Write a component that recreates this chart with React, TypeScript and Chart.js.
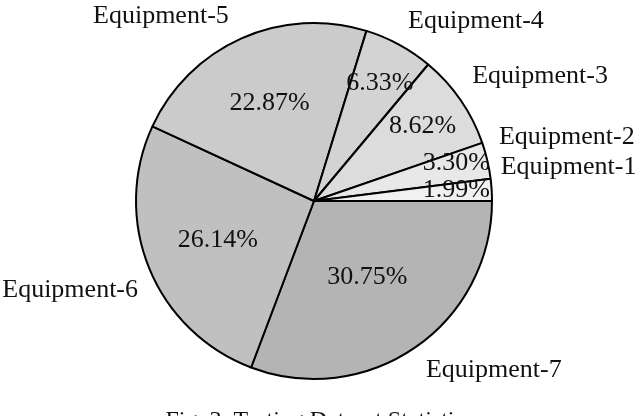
import React, { useEffect, useRef } from "react";
import { Chart, registerables } from "chart.js";

Chart.register(...registerables);

const labels = ["Equipment-7", "Equipment-6", "Equipment-5", "Equipment-4", "Equipment-3", "Equipment-2", "Equipment-1"];
const values = [30.75, 26.14, 22.87, 6.33, 8.62, 3.3, 1.99];
const sliceColors = ["#b4b4b4", "#c0c0c0", "#cbcbcb", "#d3d3d3", "#dcdcdc", "#e8e8e8", "#f1f1f1"];
const caption = "Fig. 3. Testing Dataset Statistics";

// label anchors in units of pie radius relative to pie centre
const pctOffsets = [[0.3, 0.43], [-0.54, 0.22], [-0.25, -0.55], [0.37, -0.66], [0.61, -0.42], [0.8, -0.21], [0.8, -0.06]];
const nameOffsets = [[1.01, 0.95], [-1.37, 0.5], [-0.86, -1.04], [0.91, -1.01], [1.27, -0.7], [1.42, -0.36], [1.43, -0.19]];

const FONT = '"Liberation Serif", "Times New Roman", serif';

const textPlugin = {
  id: "pieText",
  afterDatasetsDraw(chart: any) {
    const meta = chart.getDatasetMeta(0);
    const arc0 = meta.data[0];
    if (!arc0) return;
    const cx = arc0.x;
    const cy = arc0.y;
    const r = arc0.outerRadius;
    const ctx = chart.ctx;
    ctx.save();
    ctx.fillStyle = "#111";
    ctx.textAlign = "center";
    ctx.textBaseline = "middle";
    ctx.font = `26px ${FONT}`;
    values.forEach((v, i) => {
      const [px, py] = pctOffsets[i];
      ctx.fillText(v.toFixed(2) + "%", cx + px * r, cy + py * r);
      const [nx, ny] = nameOffsets[i];
      ctx.fillText(labels[i], cx + nx * r, cy + ny * r);
    });
    ctx.font = `24px ${FONT}`;
    ctx.textBaseline = "alphabetic";
    ctx.fillText(caption, chart.width / 2, 427);
    ctx.restore();
  },
};

export default function App() {
  const ref = useRef<HTMLCanvasElement>(null);
  useEffect(() => {
    document.body.style.margin = "0";
    const chart = new Chart(ref.current!, {
      type: "pie",
      data: {
        labels,
        datasets: [
          {
            data: values,
            backgroundColor: sliceColors,
            borderColor: "#000",
            borderWidth: 2,
          },
        ],
      },
      options: {
        animation: false,
        responsive: false,
        rotation: 90,
        layout: { padding: { left: 135, right: 147, top: 22, bottom: 36 } },
        plugins: { legend: { display: false }, tooltip: { enabled: false } },
      },
      plugins: [textPlugin],
    });
    return () => chart.destroy();
  }, []);
  return (
    <div style={{ width: 640, height: 416, background: "#fff" }}>
      <canvas ref={ref} width={640} height={416} />
    </div>
  );
}
